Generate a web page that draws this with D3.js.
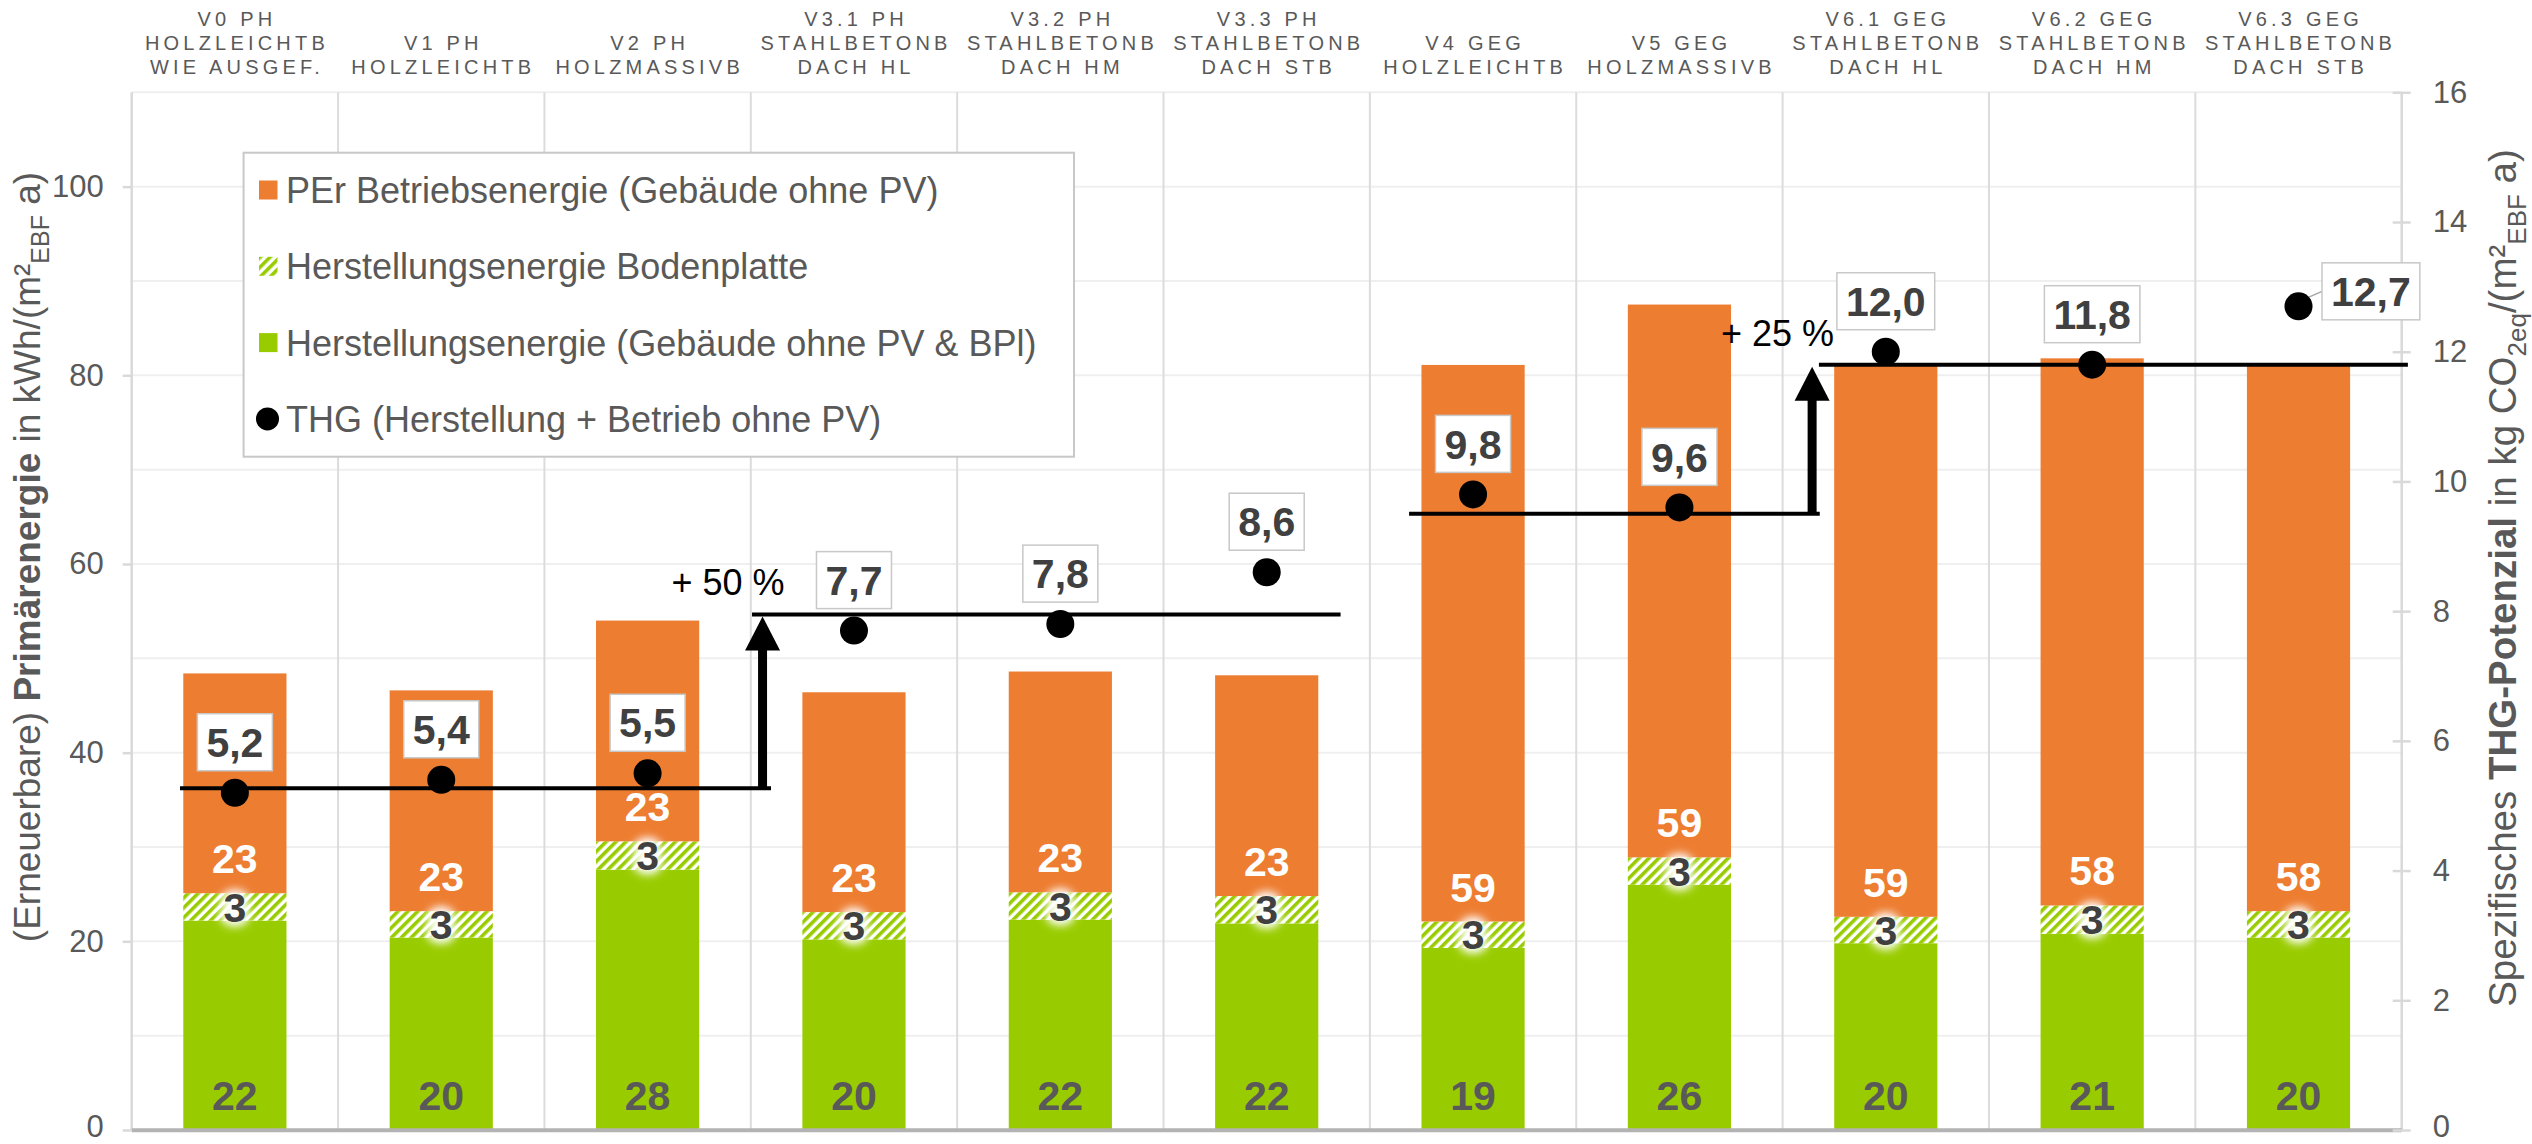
<!DOCTYPE html>
<html>
<head>
<meta charset="utf-8">
<script src="https://cdn.jsdelivr.net/npm/d3@7"></script>
<style>
  html, body { margin: 0; padding: 0; background: #fff; }
  svg { display: block; font-family: "Liberation Sans", Arial, sans-serif; }
</style>
</head>
<body>
<svg id="chart" width="2532" height="1144"></svg>
<script>
// Variants (three-line headers, "\n" separates the lines)
const categories = [
  "V0 PH\nHOLZLEICHTB\nWIE AUSGEF.",
  "V1 PH\nHOLZLEICHTB",
  "V2 PH\nHOLZMASSIVB",
  "V3.1 PH\nSTAHLBETONB\nDACH HL",
  "V3.2 PH\nSTAHLBETONB\nDACH HM",
  "V3.3 PH\nSTAHLBETONB\nDACH STB",
  "V4 GEG\nHOLZLEICHTB",
  "V5 GEG\nHOLZMASSIVB",
  "V6.1 GEG\nSTAHLBETONB\nDACH HL",
  "V6.2 GEG\nSTAHLBETONB\nDACH HM",
  "V6.3 GEG\nSTAHLBETONB\nDACH STB"
];

// Primary energy in kWh/(m²EBF a)
const herstellung  = [22.2, 20.4, 27.6, 20.2, 22.3, 21.9, 19.3, 26.0, 19.8, 20.8, 20.4]; // building w/o PV & BPl
const bodenplatte  = [2.9, 2.8, 3.0, 2.9, 2.9, 2.9, 2.8, 2.9, 2.8, 3.0, 2.8];             // floor slab
const betrieb      = [23.3, 23.4, 23.4, 23.3, 23.4, 23.4, 59.0, 58.6, 58.6, 58.0, 58.1];  // operation (PEr)

// Greenhouse gas potential in kg CO2eq/(m²EBF a)
const thg = [5.2, 5.4, 5.5, 7.7, 7.8, 8.6, 9.8, 9.6, 12.0, 11.8, 12.7];

const leftTicks  = [0, 20, 40, 60, 80, 100];
const rightTicks = [0, 2, 4, 6, 8, 10, 12, 14, 16];
const leftGrid   = [10, 20, 30, 40, 50, 60, 70, 80, 90, 100, 110];

// Level lines of the THG step annotation (x in category units, value on the THG axis)
const levelLines = [
  { from: 0.234, to: 3.098, value: 5.27 },
  { from: 3.006, to: 5.858, value: 7.95 },
  { from: 6.19,  to: 8.18,  value: 9.5 },
  { from: 8.176, to: 11.03, value: 11.8 }
];
const stepArrows = [
  { at: 3.057, from: 5.27, to: 7.95, label: "+ 50 %" },
  { at: 8.143, from: 9.5,  to: 11.8, label: "+ 25 %" }
];

const legendItems = [
  { label: "PEr Betriebsenergie (Gebäude ohne PV)", kind: "orange" },
  { label: "Herstellungsenergie Bodenplatte", kind: "hatch" },
  { label: "Herstellungsenergie (Gebäude ohne PV & BPl)", kind: "green" },
  { label: "THG (Herstellung + Betrieb ohne PV)", kind: "dot" }
];

const COL_ORANGE = "#ED7D31";
const COL_GREEN  = "#99CC00";
const COL_TEXT   = "#595959";
const COL_DARK   = "#404040";

const plot = { left: 131.7, right: 2401.7, top: 92.3, bottom: 1130 };

const svg = d3.select("#chart");
const defs = svg.append("defs");

// diagonal hatch for the floor slab segment
const pat = defs.append("pattern")
  .attr("id", "hatch").attr("patternUnits", "userSpaceOnUse")
  .attr("width", 7).attr("height", 7)
  .attr("patternTransform", "rotate(45)");
pat.append("rect").attr("width", 7).attr("height", 7).attr("fill", "#fff");
pat.append("rect").attr("width", 3.6).attr("height", 7).attr("fill", COL_GREEN);

const glow = defs.append("filter").attr("id", "glow")
  .attr("x", "-60%").attr("y", "-60%").attr("width", "220%").attr("height", "220%");
glow.append("feGaussianBlur").attr("stdDeviation", 4);

// scales
const idx = d3.range(categories.length);
const x = d3.scaleBand().domain(idx).range([plot.left, plot.right])
  .paddingInner(0.5).paddingOuter(0.25);
const xCat = d3.scaleLinear().domain([0, categories.length]).range([plot.left, plot.right]);
const yL = d3.scaleLinear().domain([0, 110]).range([plot.bottom, plot.top]);
const yR = d3.scaleLinear().domain([0, 16]).range([plot.bottom, plot.top]);

const fmtInt = d3.format(".0f");
const fmtDe = d3.formatLocale({ decimal: ",", thousands: ".", grouping: [3], currency: ["", " €"] }).format(".1f");

// gridlines
svg.append("g").selectAll("line").data(leftGrid).join("line")
  .attr("x1", plot.left).attr("x2", plot.right)
  .attr("y1", d => yL(d)).attr("y2", d => yL(d))
  .attr("stroke", "#efefef").attr("stroke-width", 2);
svg.append("g").selectAll("line").data(d3.range(1, categories.length)).join("line")
  .attr("x1", d => xCat(d)).attr("x2", d => xCat(d))
  .attr("y1", plot.top).attr("y2", plot.bottom)
  .attr("stroke", "#dcdcdc").attr("stroke-width", 2);

// category headers
const head = svg.append("g").attr("font-size", 20).attr("fill", COL_TEXT)
  .attr("letter-spacing", 4.2).attr("text-anchor", "middle");
categories.forEach((c, i) => {
  const lines = c.split("\n");
  const start = 3 - lines.length;
  lines.forEach((ln, j) => {
    head.append("text")
      .attr("x", x(i) + x.bandwidth() / 2 + 2.1)
      .attr("y", 25.5 + (start + j) * 24.3)
      .text(ln);
  });
});

// stacked bars
const rows = idx.map(i => ({ i, green: herstellung[i], hatch: bodenplatte[i], orange: betrieb[i] }));
const stack = d3.stack().keys(["green", "hatch", "orange"])(rows);
const fills = { green: COL_GREEN, hatch: "url(#hatch)", orange: COL_ORANGE };
svg.append("g").selectAll("g").data(stack).join("g")
  .attr("fill", s => fills[s.key])
  .selectAll("rect").data(s => s).join("rect")
  .attr("x", d => x(d.data.i)).attr("width", x.bandwidth())
  .attr("y", d => yL(d[1])).attr("height", d => yL(d[0]) - yL(d[1]));

// axes lines
svg.append("line").attr("x1", plot.left).attr("x2", plot.left)
  .attr("y1", plot.top).attr("y2", plot.bottom).attr("stroke", "#d9d9d9").attr("stroke-width", 2.5);
svg.append("line").attr("x1", plot.right).attr("x2", plot.right)
  .attr("y1", plot.top).attr("y2", plot.bottom).attr("stroke", "#d9d9d9").attr("stroke-width", 2.5);
svg.append("line").attr("x1", plot.left).attr("x2", plot.right)
  .attr("y1", yL(0) + 0.3).attr("y2", yL(0) + 0.3).attr("stroke", "#b3b3b3").attr("stroke-width", 4);

const gL = svg.append("g").attr("transform", `translate(${plot.left},0)`)
  .call(d3.axisLeft(yL).tickValues(leftTicks).tickSize(9).tickPadding(19));
gL.select(".domain").remove();
gL.selectAll(".tick line").attr("stroke", "#d9d9d9").attr("stroke-width", 2.5);
gL.selectAll(".tick text").attr("font-size", 31).attr("fill", COL_TEXT)
  .attr("font-family", "Liberation Sans, Arial, sans-serif");

const gR = svg.append("g").attr("transform", `translate(${plot.right},0)`)
  .call(d3.axisRight(yR).tickValues(rightTicks).tickSize(9).tickPadding(22));
gR.select(".domain").remove();
gR.selectAll(".tick line").attr("x1", -9).attr("stroke", "#d9d9d9").attr("stroke-width", 2.5);
gR.selectAll(".tick text").attr("font-size", 31).attr("fill", COL_TEXT)
  .attr("font-family", "Liberation Sans, Arial, sans-serif");

// keep the zero labels inside the bottom edge
[gL, gR].forEach(g => g.selectAll(".tick").filter(d => d === 0).select("text").attr("dy", "0.2em"));

// segment labels
const labelSize = 41;
const capOff = labelSize * 0.358;
const lab = svg.append("g").attr("font-size", labelSize).attr("font-weight", "bold")
  .attr("text-anchor", "middle");
rows.forEach(r => {
  const cx = x(r.i) + x.bandwidth() / 2;
  lab.append("text").attr("x", cx).attr("y", yL(0) - 20)
    .attr("fill", COL_TEXT).text(fmtInt(r.green));
  const hMid = yL(r.green + r.hatch / 2) + capOff;
  lab.append("text").attr("x", cx).attr("y", hMid)
    .attr("fill", "#fff").attr("stroke", "#fff").attr("stroke-width", 9)
    .attr("filter", "url(#glow)").text(fmtInt(r.hatch));
  lab.append("text").attr("x", cx).attr("y", hMid)
    .attr("fill", COL_DARK).text(fmtInt(r.hatch));
  lab.append("text").attr("x", cx).attr("y", yL(r.green + r.hatch) - 20)
    .attr("fill", "#fff").text(fmtInt(r.orange));
});

// level lines and step arrows
const ann = svg.append("g");
ann.selectAll("line").data(levelLines).join("line")
  .attr("x1", d => xCat(d.from)).attr("x2", d => xCat(d.to))
  .attr("y1", d => yR(d.value)).attr("y2", d => yR(d.value))
  .attr("stroke", "#000").attr("stroke-width", 4);
stepArrows.forEach(a => {
  const ax = xCat(a.at);
  const tip = yR(a.to) + 2;
  const headH = 34, headW = 35;
  ann.append("line").attr("x1", ax).attr("x2", ax)
    .attr("y1", yR(a.from)).attr("y2", tip + headH - 1)
    .attr("stroke", "#000").attr("stroke-width", 9);
  ann.append("path")
    .attr("d", `M${ax},${tip} L${ax + headW / 2},${tip + headH} L${ax - headW / 2},${tip + headH} Z`)
    .attr("fill", "#000");
  ann.append("text").attr("x", ax + 22).attr("y", yR(a.to) - 19)
    .attr("text-anchor", "end").attr("font-size", 36).attr("fill", "#000")
    .text(a.label);
});

// THG points with boxed labels
const pts = svg.append("g");
thg.forEach((v, i) => {
  const cx = x(i) + x.bandwidth() / 2, cy = yR(v);
  const side = i === thg.length - 1;
  const g = pts.append("g");
  const t = g.append("text").attr("font-size", labelSize).attr("font-weight", "bold")
    .attr("fill", COL_DARK).attr("text-anchor", "middle").text(fmtDe(v));
  const tw = t.node().getComputedTextLength();
  const bw = tw + 18, bh = 57;
  let bx, by;
  if (side) { bx = cx + 23.5; by = cy - 15 - bh / 2; }
  else { bx = cx - bw / 2; by = cy - 50.5 - bh / 2; }
  if (side) {
    g.insert("line", "text").attr("x1", cx + 3).attr("y1", cy - 6)
      .attr("x2", bx).attr("y2", by + bh / 2)
      .attr("stroke", "#a6a6a6").attr("stroke-width", 1.5);
  }
  g.insert("rect", "text").attr("x", bx).attr("y", by).attr("width", bw).attr("height", bh)
    .attr("fill", "#fff").attr("stroke", "#c8c8c8").attr("stroke-width", 1.5);
  t.attr("x", bx + bw / 2).attr("y", by + bh / 2 + capOff);
  pts.append("circle").attr("cx", cx).attr("cy", cy).attr("r", 14).attr("fill", "#000");
});

// legend
const lg = svg.append("g");
lg.append("rect").attr("x", 243.6).attr("y", 152.7).attr("width", 830.4).attr("height", 304)
  .attr("fill", "#fff").attr("stroke", "#c8c8c8").attr("stroke-width", 2);
legendItems.forEach((it, k) => {
  const cy = 190 + k * 76.3;
  if (it.kind === "dot") {
    lg.append("circle").attr("cx", 267.5).attr("cy", cy).attr("r", 11.5).attr("fill", "#000");
  } else {
    lg.append("rect").attr("x", 259).attr("y", cy - 9.5).attr("width", 18.5).attr("height", 19)
      .attr("fill", it.kind === "orange" ? COL_ORANGE : it.kind === "green" ? COL_GREEN : "url(#hatch)");
  }
  lg.append("text").attr("x", 286).attr("y", cy + 13).attr("font-size", 36)
    .attr("fill", COL_TEXT).text(it.label);
});

// axis titles
function title(tx, ty, size, parts) {
  const sub = Math.round(size * 0.68), shift = Math.round(size * 0.25);
  const t = svg.append("text").attr("transform", `translate(${tx},${ty}) rotate(-90)`)
    .attr("text-anchor", "middle").attr("font-size", size).attr("fill", COL_TEXT);
  parts.forEach(p => {
    const s = t.append("tspan").text(p.t);
    if (p.b) s.attr("font-weight", "bold");
    if (p.sub) s.attr("font-size", sub).attr("dy", shift);
    if (p.reset) s.attr("dy", -shift);
  });
}
title(40, 557, 37, [
  { t: "(Erneuerbare) " }, { t: "Primärenergie", b: true }, { t: " in kWh/(m²" },
  { t: "EBF", sub: true }, { t: " a)", reset: true }
]);
title(2516, 578, 38.5, [
  { t: "Spezifisches " }, { t: "THG-Potenzial", b: true }, { t: " in kg CO" },
  { t: "2eq", sub: true }, { t: "/(m²", reset: true },
  { t: "EBF", sub: true }, { t: " a)", reset: true }
]);
</script>
</body>
</html>
